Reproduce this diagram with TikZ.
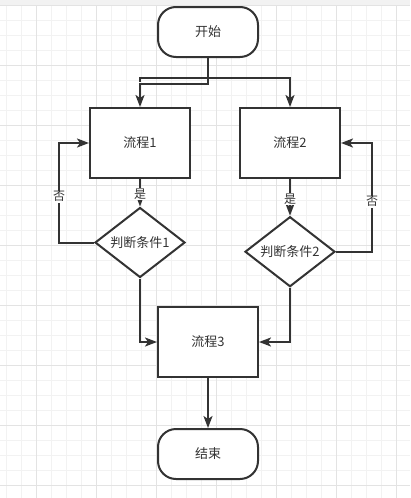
\documentclass[tikz,border=0pt]{standalone}
\usepackage{fontspec}
\setmainfont{Noto Sans CJK SC}
\usetikzlibrary{shapes.geometric,arrows.meta}
\definecolor{linegray}{HTML}{333333}
\definecolor{gridminor}{HTML}{F2F2F2}
\definecolor{gridmajor}{HTML}{E3E3E3}
\tikzset{
  terminal/.style={draw=linegray, line width=2pt, rounded corners=18pt, fill=white,
    minimum width=100pt, minimum height=50pt, font=\fontsize{13}{15}\selectfont, text=linegray},
  process/.style={draw=linegray, line width=2pt, fill=white,
    minimum width=100pt, minimum height=70pt, font=\fontsize{13}{15}\selectfont, text=linegray},
  decision/.style={draw=linegray, line width=2pt, diamond, aspect=1.3, inner sep=0pt, fill=white,
    minimum width=90pt, minimum height=70pt, font=\fontsize{13}{15}\selectfont, text=linegray},
  arr/.style={draw=linegray, line width=2pt, -{Stealth[length=12pt,width=9pt,inset=3pt]}},
  lbl/.style={fill=white, inner sep=1pt, font=\fontsize{12}{14}\selectfont, text=linegray}
}
\begin{document}
\begin{tikzpicture}[x=1pt,y=-1pt]
\useasboundingbox (0,0) rectangle (410,498);
% background grid
\fill[white] (0,0) rectangle (410,498);
\foreach \x in {6.7,21.7,...,410}
    \draw[gridminor, line width=0.8pt] (\x,5) -- (\x,498);
\foreach \y in {20,35,...,498}
    \draw[gridminor, line width=0.8pt] (0,\y) -- (410,\y);
\foreach \x in {36.7,96.7,...,410}
    \draw[gridmajor, line width=0.8pt] (\x,5) -- (\x,498);
\foreach \y in {65,125,...,498}
    \draw[gridmajor, line width=0.8pt] (0,\y) -- (410,\y);
\fill[gridminor] (0,0) rectangle (410,5);
\draw[gridmajor, line width=0.8pt] (0,5) -- (410,5);

% nodes
\node[terminal] (start) at (208,32) {开始};
\node[process] (p1) at (140,143) {流程1};
\node[process] (p2) at (290,143) {流程2};
\node[decision] (d1) at (140,242.5) {判断条件1};
\node[decision] (d2) at (290,251.7) {判断条件2};
\node[process] (p3) at (208,342) {流程3};
\node[terminal] (stop) at (208,454) {结束};

% connectors
\draw[arr] (start.south) -- ++(0,25.5) -| (p1.north);
\draw[arr] (p1.north) ++(0,-25.5) -- ++(0,-3.5) -| (p2.north);
\draw[arr] (p1.south) -- (d1.north) node[lbl, pos=0.55] {是};
\draw[arr] (p2.south) -- (d2.north) node[lbl, pos=0.55] {是};
\draw[arr] (d1.west) -- ++(-35,0) |- (p1.west) node[lbl, pos=0.23] {否};
\draw[arr] (d2.east) -- ++(36,0) |- (p2.east) node[lbl, pos=0.23] {否};
\draw[arr] (d1.south) |- (p3.west);
\draw[arr] (d2.south) |- (p3.east);
\draw[arr] (p3.south) -- (stop.north);
\end{tikzpicture}
\end{document}
